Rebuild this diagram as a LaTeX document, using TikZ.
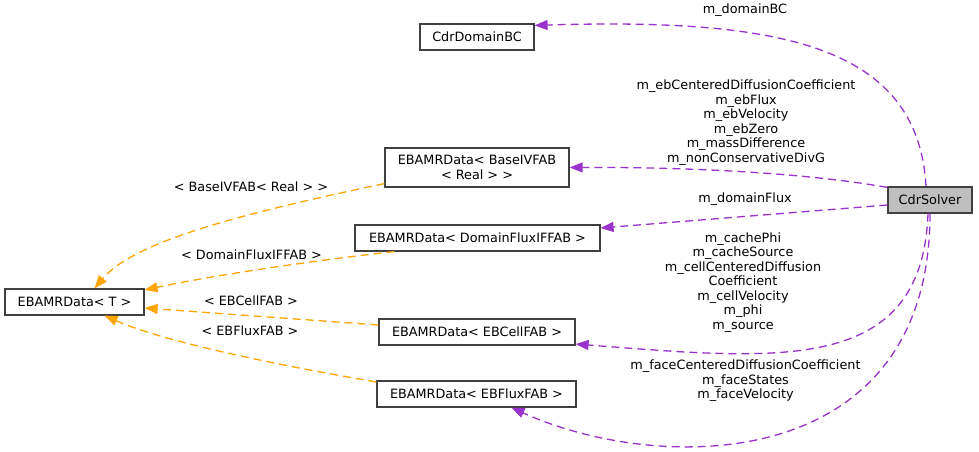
\documentclass[tikz,border=0pt]{standalone}
\usepackage{fontspec}
\setmainfont{DejaVu Sans}
\usetikzlibrary{arrows.meta}
\definecolor{edgepurple}{HTML}{9A32CD}
\definecolor{edgeorange}{HTML}{FFA500}
\definecolor{boxline}{HTML}{404040}
\definecolor{solverfill}{HTML}{BFBFBF}
\begin{document}
\begin{tikzpicture}[x=1pt,y=-1pt,
  every node/.style={font=\fontsize{12.8pt}{14.5pt}\selectfont},
  classbox/.style={draw=boxline,line width=1.2pt,fill=white,inner sep=0pt,align=center,text=black},
  lbl/.style={align=center,inner sep=0pt,text=black},
  member/.style={draw=edgepurple,line width=1.3pt,dash pattern=on 8pt off 5pt,-{Triangle[length=13pt,width=10pt]}},
  templ/.style={draw=edgeorange,line width=1.3pt,dash pattern=on 8pt off 5pt,-{Triangle[length=13pt,width=10pt]}}]
\useasboundingbox (0,0) rectangle (979,452);
% nodes
\node[classbox,minimum width=114pt,minimum height=26pt] (bc) at (477,37) {CdrDomainBC};
\node[classbox,minimum width=184pt,minimum height=39pt] (ivfab) at (477,167.5) {EBAMRData\textless{} BaseIVFAB\\\textless{} Real \textgreater{} \textgreater};
\node[classbox,minimum width=245pt,minimum height=26pt] (dflux) at (477.5,238) {EBAMRData\textless{} DomainFluxIFFAB \textgreater};
\node[classbox,minimum width=139pt,minimum height=26pt] (tdata) at (74.5,302) {EBAMRData\textless{} T \textgreater};
\node[classbox,minimum width=196pt,minimum height=26pt] (cell) at (477,332) {EBAMRData\textless{} EBCellFAB \textgreater};
\node[classbox,minimum width=199pt,minimum height=26pt] (flux) at (476.5,394) {EBAMRData\textless{} EBFluxFAB \textgreater};
\node[classbox,fill=solverfill,minimum width=84pt,minimum height=26pt] (solver) at (930,200) {CdrSolver};
% purple member edges
\draw[member] ([xshift=-4pt]solver.north) .. controls (918,45) and (780,18) .. ([yshift=-2pt]bc.north east);
\draw[member] ([yshift=-1pt]solver.north west) .. controls (800,172) and (680,167) .. (ivfab.east);
\draw[member] ([yshift=-5pt]solver.west) -- ([yshift=10pt]dflux.east);
\draw[member] ([xshift=-2pt]solver.south) .. controls (922,375) and (780,360) .. ([yshift=-12pt]cell.east);
\draw[member] (solver.south) .. controls (930,475) and (660,475) .. ([xshift=35pt]flux.south);
% orange template edges
\draw[templ] ([yshift=4pt]ivfab.south west) .. controls (250,212) and (135,240) .. ([xshift=20pt]tdata.north);
\draw[templ] ([xshift=40pt]dflux.south west) .. controls (300,262) and (200,278) .. ([yshift=12pt]tdata.east);
\draw[templ] ([yshift=7pt]cell.west) -- ([yshift=-6pt]tdata.east);
\draw[templ] ([yshift=12pt]flux.west) .. controls (260,362) and (160,340) .. ([xshift=30pt]tdata.south);
% labels
\node[lbl] (l1) at (745,10) {m\_domainBC};
\node[lbl] (l2) at (746,122.5) {m\_ebCenteredDiffusionCoefficient\\m\_ebFlux\\m\_ebVelocity\\m\_ebZero\\m\_massDifference\\m\_nonConservativeDivG};
\node[lbl] (l3) at (745,199) {m\_domainFlux};
\node[lbl] (l4) at (743,282.5) {m\_cachePhi\\m\_cacheSource\\m\_cellCenteredDiffusion\\Coefficient\\m\_cellVelocity\\m\_phi\\m\_source};
\node[lbl] (l5) at (745.5,381) {m\_faceCenteredDiffusionCoefficient\\m\_faceStates\\m\_faceVelocity};
\node[lbl] (l6) at (251,187) {\textless{} BaseIVFAB\textless{} Real \textgreater{} \textgreater};
\node[lbl] (l7) at (251.5,255) {\textless{} DomainFluxIFFAB \textgreater};
\node[lbl] (l8) at (251,301) {\textless{} EBCellFAB \textgreater};
\node[lbl] (l9) at (250,331) {\textless{} EBFluxFAB \textgreater};
\end{tikzpicture}
\end{document}
